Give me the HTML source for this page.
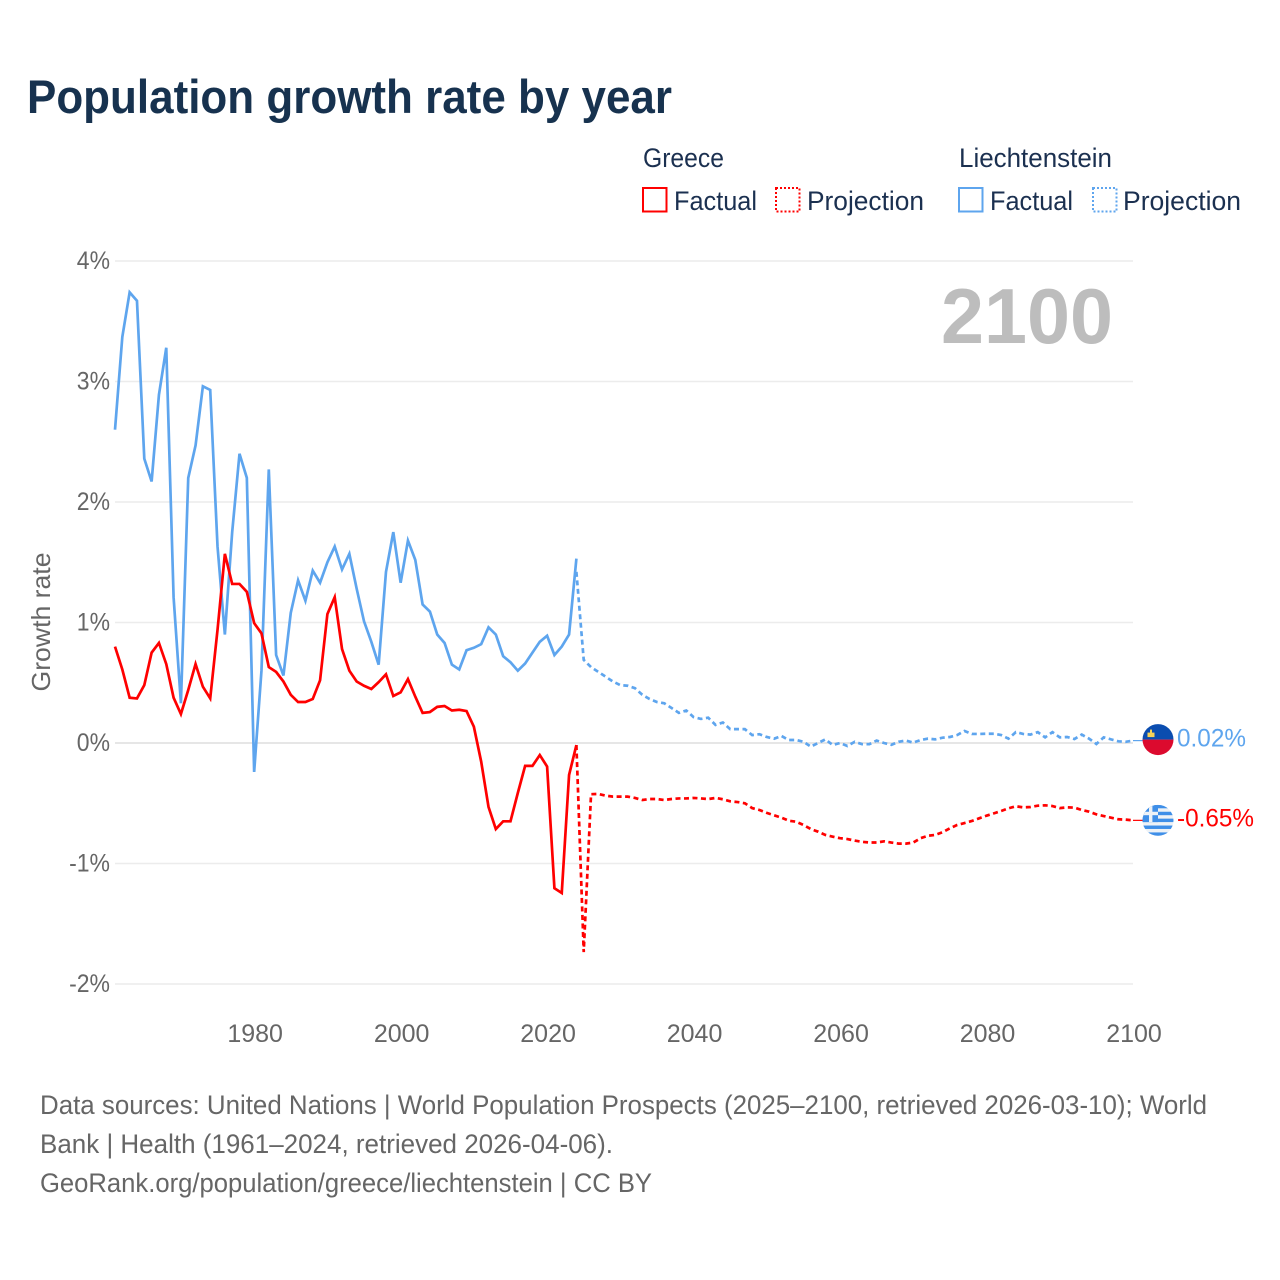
<!DOCTYPE html>
<html lang="en">
<head>
<meta charset="utf-8">
<title>Population growth rate by year</title>
<style>
html,body{margin:0;padding:0;background:#fff;}
svg{display:block;font-family:"Liberation Sans",sans-serif;}
</style>
</head>
<body>
<svg id="chart" xmlns="http://www.w3.org/2000/svg" width="1280" height="1280" viewBox="0 0 1280 1280">
  <defs>
    <clipPath id="clip-li"><circle cx="1158" cy="0" r="15.5"/></clipPath>
    <clipPath id="clip-gr"><circle cx="1158" cy="0" r="15.5"/></clipPath>
  </defs>
  <rect width="1280" height="1280" fill="#fff"/>
  <text x="27" y="113" font-size="47" font-weight="700" fill="#17324f" textLength="645" lengthAdjust="spacingAndGlyphs">Population growth rate by year</text>

  <g font-size="27" fill="#1b3050">
    <text x="643" y="167" textLength="81" lengthAdjust="spacingAndGlyphs">Greece</text>
    <rect x="643" y="188" width="23.5" height="23.5" fill="none" stroke="#ff0000" stroke-width="2"/>
    <text x="674" y="210" textLength="83" lengthAdjust="spacingAndGlyphs">Factual</text>
    <rect x="776" y="188" width="23.5" height="23.5" fill="none" stroke="#ff0000" stroke-width="2" stroke-dasharray="2 2"/>
    <text x="807" y="210" textLength="117" lengthAdjust="spacingAndGlyphs">Projection</text>
    <text x="959" y="167" textLength="153" lengthAdjust="spacingAndGlyphs">Liechtenstein</text>
    <rect x="959" y="188" width="23.5" height="23.5" fill="none" stroke="#5ea5ee" stroke-width="2"/>
    <text x="990" y="210" textLength="83" lengthAdjust="spacingAndGlyphs">Factual</text>
    <rect x="1093" y="188" width="23.5" height="23.5" fill="none" stroke="#5ea5ee" stroke-width="2" stroke-dasharray="2 2"/>
    <text x="1123" y="210" textLength="118" lengthAdjust="spacingAndGlyphs">Projection</text>
  </g>

  <g id="grid"></g>
  <g id="yticks" font-size="25" fill="#666" text-anchor="end"></g>
  <g id="xticks" font-size="25" fill="#666" text-anchor="middle"></g>
  <text transform="translate(50,622) rotate(-90)" text-anchor="middle" font-size="26" fill="#666" textLength="139" lengthAdjust="spacingAndGlyphs">Growth rate</text>
  <text x="1113" y="343" text-anchor="end" font-size="78" font-weight="700" fill="#bdbdbd" textLength="172" lengthAdjust="spacingAndGlyphs">2100</text>

  <g id="series"></g>

  <g id="flag-li"></g>
  <g id="flag-gr"></g>
  <g id="endlabels" font-size="25"></g>

  <g font-size="27" fill="#666">
    <text x="40" y="1114" textLength="1167" lengthAdjust="spacingAndGlyphs">Data sources: United Nations | World Population Prospects (2025–2100, retrieved 2026-03-10); World</text>
    <text x="40" y="1153" textLength="573" lengthAdjust="spacingAndGlyphs">Bank | Health (1961–2024, retrieved 2026-04-06).</text>
    <text x="40" y="1192" textLength="612" lengthAdjust="spacingAndGlyphs">GeoRank.org/population/greece/liechtenstein | CC BY</text>
  </g>
</svg>
<script>
var yTickValues = [4, 3, 2, 1, 0, -1, -2];
var yTickLabels = ["4%", "3%", "2%", "1%", "0%", "-1%", "-2%"];
var xTickYears = [1980, 2000, 2020, 2040, 2060, 2080, 2100];
var factualStartYear = 1961;
var projectionStartYear = 2024;
var liechtensteinFactual = [
  2.60,3.37,3.74,3.67,2.36,2.17,2.89,3.28,1.21,0.33,
  2.20,2.47,2.96,2.93,1.63,0.90,1.75,2.40,2.20,-0.24,
  0.60,2.27,0.73,0.56,1.08,1.35,1.18,1.43,1.33,1.50,
  1.63,1.44,1.57,1.28,1.01,0.84,0.65,1.42,1.75,1.33,
  1.68,1.52,1.15,1.09,0.90,0.83,0.65,0.61,0.77,0.79,
  0.82,0.96,0.90,0.72,0.67,0.60,0.66,0.75,0.84,0.89,
  0.73,0.80,0.90,1.53
];
var greeceFactual = [
  0.80,0.61,0.376,0.37,0.48,0.75,0.83,0.655,0.376,0.24,
  0.44,0.655,0.467,0.37,0.94,1.57,1.32,1.32,1.255,0.995,
  0.91,0.63,0.59,0.51,0.40,0.34,0.34,0.365,0.52,1.07,
  1.21,0.78,0.60,0.51,0.475,0.448,0.505,0.57,0.39,0.42,
  0.53,0.385,0.25,0.257,0.30,0.307,0.27,0.276,0.265,0.135,
  -0.155,-0.53,-0.714,-0.65,-0.65,-0.415,-0.19,-0.19,-0.10,-0.195,
  -1.205,-1.245,-0.265,-0.017
];
var liechtensteinProjection = [
  1.42,0.69,0.63,0.59,0.55,0.51,0.48,0.475,0.455,0.40,
  0.365,0.34,0.33,0.29,0.25,0.27,0.215,0.20,0.21,0.15,
  0.17,0.115,0.115,0.115,0.066,0.073,0.05,0.036,0.058,0.025,
  0.025,0.01,-0.03,0.0,0.03,-0.017,0.0,-0.025,0.01,-0.01,
  -0.01,0.02,0.0,-0.015,0.01,0.02,0.003,0.025,0.036,0.03,
  0.044,0.05,0.066,0.10,0.075,0.075,0.077,0.077,0.066,0.036,
  0.09,0.075,0.07,0.09,0.047,0.09,0.047,0.05,0.033,0.07,
  0.036,-0.008,0.047,0.03,0.014,0.01,0.02
];
var greeceProjection = [
  -0.017,-1.735,-0.425,-0.423,-0.437,-0.445,-0.445,-0.445,-0.456,-0.473,
  -0.465,-0.465,-0.473,-0.465,-0.46,-0.46,-0.456,-0.46,-0.465,-0.456,
  -0.467,-0.484,-0.49,-0.50,-0.54,-0.556,-0.58,-0.60,-0.62,-0.645,
  -0.653,-0.68,-0.714,-0.736,-0.763,-0.777,-0.79,-0.797,-0.81,-0.82,
  -0.826,-0.826,-0.816,-0.826,-0.835,-0.835,-0.826,-0.79,-0.77,-0.763,
  -0.74,-0.708,-0.68,-0.664,-0.647,-0.625,-0.603,-0.584,-0.564,-0.542,
  -0.525,-0.534,-0.531,-0.52,-0.517,-0.523,-0.54,-0.534,-0.536,-0.556,
  -0.57,-0.592,-0.606,-0.62,-0.633,-0.636,-0.642
];
var liechtensteinEndLabel = "0.02%";
var greeceEndLabel = "-0.65%";

var NS = "http://www.w3.org/2000/svg";
var RED = "#ff0000";
var BLUE = "#5ea5ee";
var PLOT_LEFT = 115;
var PLOT_RIGHT = 1133;

function xScale(year) {
  return PLOT_LEFT + (year - 1961) * (PLOT_RIGHT - PLOT_LEFT) / (2100 - 1961);
}
function yScale(value) {
  return 743 - value * 120.5;
}
function make(tag, attrs, parent) {
  var el = document.createElementNS(NS, tag);
  for (var key in attrs) {
    el.setAttribute(key, attrs[key]);
  }
  parent.appendChild(el);
  return el;
}
function pathFor(values, startYear) {
  var d = "";
  for (var i = 0; i < values.length; i++) {
    d += (i ? "L" : "M") + xScale(startYear + i).toFixed(2) + " " + yScale(values[i]).toFixed(2);
  }
  return d;
}

var gridGroup = document.getElementById("grid");
var yTickGroup = document.getElementById("yticks");
yTickValues.forEach(function (v, i) {
  var line = make("line", {x1: PLOT_LEFT, x2: PLOT_RIGHT, y1: yScale(v), y2: yScale(v), stroke: v === 0 ? "#e6e6e6" : "#ececec", "stroke-width": v === 0 ? 2 : 1.5}, gridGroup);
  
  
  var label = make("text", {x: 110, y: yScale(v) + 8}, yTickGroup);
  label.textContent = yTickLabels[i];
  
  
  label.setAttribute('textLength', (label.getComputedTextLength() * 0.92).toFixed(1));
  label.setAttribute('lengthAdjust', 'spacingAndGlyphs');
});

var xTickGroup = document.getElementById("xticks");
xTickYears.forEach(function (year) {
  var label = make("text", {x: xScale(year) + 1, y: 1042}, xTickGroup);
  label.textContent = String(year);
  
  
});

var seriesGroup = document.getElementById("series");
function drawLine(values, startYear, color, dashed, name) {
  var attrs = {d: pathFor(values, startYear), fill: "none", stroke: color, "stroke-width": 2.7, "stroke-linejoin": "miter"};
  if (dashed) {
    attrs["stroke-dasharray"] = "5 3.5";
  }
  var p = make("path", attrs, seriesGroup);
  
  
}
function drawConnector(value, color, name) {
  var c = make("line", {x1: PLOT_RIGHT, x2: 1144, y1: yScale(value), y2: yScale(value), stroke: color, "stroke-width": 1.2}, seriesGroup);
  
  
}
drawLine(liechtensteinFactual, factualStartYear, BLUE, false, "liechtenstein-factual-line");
drawLine(liechtensteinProjection, projectionStartYear, BLUE, true, "liechtenstein-projection-line");
drawLine(greeceFactual, factualStartYear, RED, false, "greece-factual-line");
drawLine(greeceProjection, projectionStartYear, RED, true, "greece-projection-line");

var liEnd = liechtensteinProjection[liechtensteinProjection.length - 1];
var grEnd = greeceProjection[greeceProjection.length - 1];
drawConnector(liEnd, BLUE, "liechtenstein-end-connector");
drawConnector(grEnd, RED, "greece-end-connector");

var liValueY = yScale(liEnd);
var liY = liValueY - 1;
var grY = yScale(grEnd);

document.querySelector("#clip-li circle").setAttribute("cy", liY);
document.querySelector("#clip-gr circle").setAttribute("cy", grY);

var flagLi = document.getElementById("flag-li");
var liGroup = make("g", {"clip-path": "url(#clip-li)"}, flagLi);
make("rect", {x: 1142, y: liY - 16, width: 32, height: 16, fill: "#0b4db0"}, liGroup);
make("rect", {x: 1142, y: liY, width: 32, height: 16, fill: "#dc0a2e"}, liGroup);
make("rect", {x: 1147.5, y: liY - 7, width: 7, height: 4.5, fill: "#f7d358"}, liGroup);
make("rect", {x: 1150, y: liY - 10, width: 2, height: 4, fill: "#f7d358"}, liGroup);

var flagGr = document.getElementById("flag-gr");
var grGroup = make("g", {"clip-path": "url(#clip-gr)"}, flagGr);
make("rect", {x: 1142, y: grY - 16, width: 32, height: 32, fill: "#eef2f6"}, grGroup);
var stripeHeight = 31 / 9;
for (var s = 0; s < 9; s += 2) {
  make("rect", {x: 1142, y: grY - 15.5 + s * stripeHeight, width: 32, height: stripeHeight, fill: "#3f8fe8"}, grGroup);
}
make("rect", {x: 1142, y: grY - 15.5, width: 16, height: stripeHeight * 5, fill: "#3f8fe8"}, grGroup);
make("rect", {x: 1149, y: grY - 15.5, width: 3.4, height: stripeHeight * 5, fill: "#eef2f6"}, grGroup);
make("rect", {x: 1142, y: grY - 15.5 + stripeHeight * 2, width: 16, height: stripeHeight, fill: "#eef2f6"}, grGroup);

var endGroup = document.getElementById("endlabels");
var liLabel = make("text", {x: 1177, y: liValueY + 6, fill: BLUE, textLength: 69, lengthAdjust: "spacingAndGlyphs"}, endGroup);
liLabel.textContent = liechtensteinEndLabel;


var grLabel = make("text", {x: 1177, y: grY + 6, fill: RED, textLength: 77, lengthAdjust: "spacingAndGlyphs"}, endGroup);
grLabel.textContent = greeceEndLabel;


</script>
</body>
</html>
